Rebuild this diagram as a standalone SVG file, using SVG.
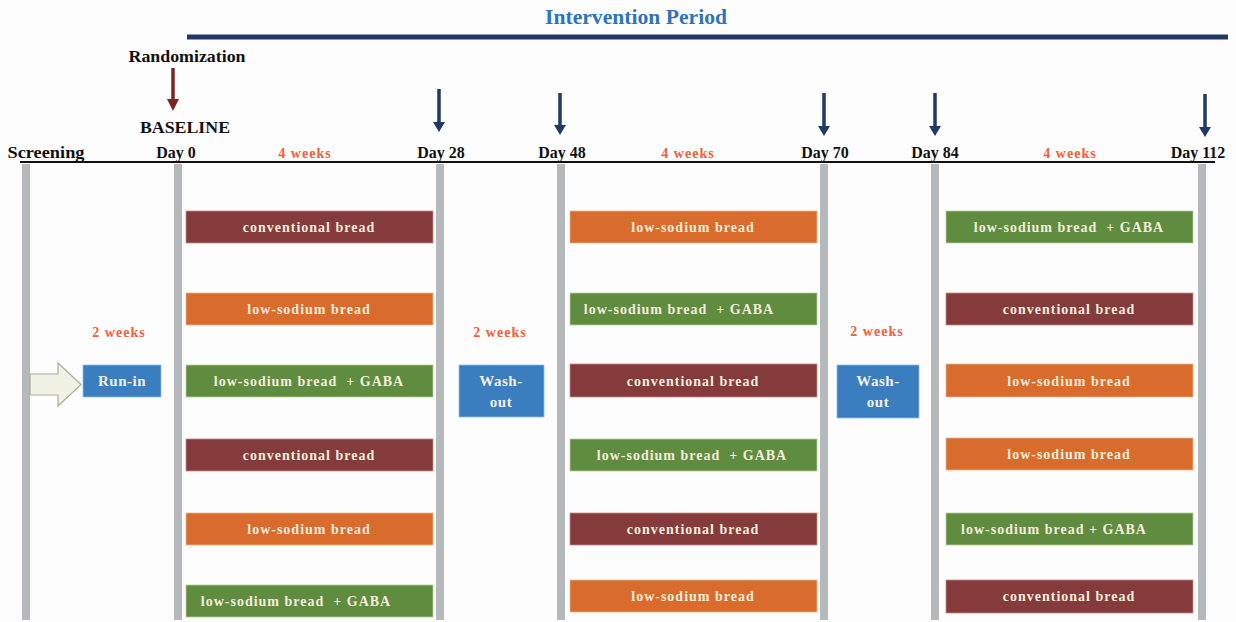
<svg xmlns="http://www.w3.org/2000/svg" width="1236" height="622" viewBox="0 0 1236 622">
<style>
text{font-family:"Liberation Serif","Times New Roman",serif;font-weight:bold;}
.lbl{font-family:"Liberation Serif",serif;font-size:16px;fill:#111;text-anchor:middle;}
.red{font-family:"Liberation Serif",serif;font-size:14px;fill:#f0603c;text-anchor:middle;letter-spacing:1px;}
.bx{font-family:"Liberation Serif",serif;font-size:14px;fill:#f4ecdc;text-anchor:middle;letter-spacing:1px;white-space:pre;}
.wt{font-family:"Liberation Serif",serif;font-size:15px;fill:#f4f0ea;text-anchor:middle;letter-spacing:0.5px;}
.conv{fill:#853a3b;stroke:#c98a86;stroke-width:0.8;}
.low{fill:#d96c2d;stroke:#f0b58c;stroke-width:0.8;}
.gaba{fill:#5f8c3f;stroke:#b6cf9c;stroke-width:0.8;}
.blue{fill:#3a7ebf;stroke:#8fbde6;stroke-width:0.8;}
.bar{fill:#b5b9bc;}
.nav{stroke:#1f3864;stroke-width:3.5;fill:none;}
</style>
<defs>
<marker id="navHead" viewBox="0 0 10 12" refX="0" refY="6" markerWidth="10" markerHeight="12" markerUnits="userSpaceOnUse" orient="auto">
<path d="M0,0 L10,6 L0,12 Z" fill="#1f3864"/>
</marker>
</defs>
<rect width="1236" height="622" fill="#fefdfd"/>

<g id="header">
<text x="636" y="24" style="font-size:20px;fill:#2e75b6;text-anchor:middle" textLength="182" lengthAdjust="spacingAndGlyphs">Intervention Period</text>
<rect x="187" y="34.5" width="1041" height="5" fill="#1f3864"/>
<text x="187" y="62" style="font-size:17px;fill:#111;text-anchor:middle" textLength="117" lengthAdjust="spacingAndGlyphs">Randomization</text>
<line x1="173" y1="68" x2="173" y2="100" stroke="#7b2424" stroke-width="3.5"/>
<path d="M167,99 L179,99 L173,111 Z" fill="#7b2424"/>
<text x="185" y="133" style="font-size:17px;fill:#111;text-anchor:middle" textLength="90" lengthAdjust="spacingAndGlyphs">BASELINE</text>
</g>

<g id="timeline">
<line x1="20" y1="162" x2="1215" y2="162" stroke="#111" stroke-width="2"/>
<text x="46" y="158" class="lbl" textLength="77" lengthAdjust="spacingAndGlyphs">Screening</text>
<text x="176" y="158" class="lbl">Day 0</text>
<text x="305" y="158" class="red">4 weeks</text>
<text x="441" y="158" class="lbl">Day 28</text>
<text x="562" y="158" class="lbl">Day 48</text>
<text x="688" y="158" class="red">4 weeks</text>
<text x="825" y="158" class="lbl">Day 70</text>
<text x="935" y="158" class="lbl">Day 84</text>
<text x="1070" y="158" class="red">4 weeks</text>
<text x="1198" y="158" class="lbl">Day 112</text>
<rect class="bar" x="22" y="164" width="8" height="456"/>
<rect class="bar" x="174" y="164" width="8" height="456"/>
<rect class="bar" x="436" y="164" width="8" height="456"/>
<rect class="bar" x="557" y="164" width="8" height="456"/>
<rect class="bar" x="820" y="164" width="8" height="456"/>
<rect class="bar" x="931" y="164" width="8" height="456"/>
<rect class="bar" x="1198" y="164" width="8" height="456"/>
</g>

<g id="connectors">
<line class="nav" x1="439" y1="89" x2="439" y2="122" marker-end="url(#navHead)"/>
<line class="nav" x1="560" y1="93" x2="560" y2="125" marker-end="url(#navHead)"/>
<line class="nav" x1="824" y1="93" x2="824" y2="126" marker-end="url(#navHead)"/>
<line class="nav" x1="935" y1="93" x2="935" y2="126" marker-end="url(#navHead)"/>
<line class="nav" x1="1205" y1="94" x2="1205" y2="127" marker-end="url(#navHead)"/>
<path d="M30,374 L58,374 L58,363 L81,384.5 L58,406 L58,395 L30,395 Z" fill="#f1f1e6" stroke="#a9b096" stroke-width="1.2"/>
</g>

<g id="runin">
<text x="119" y="337" class="red">2 weeks</text>
<rect class="blue" x="83" y="365" width="78" height="32"/>
<text x="122" y="386" class="wt">Run-in</text>
</g>

<g id="washout1">
<text x="500" y="337" class="red">2 weeks</text>
<rect class="blue" x="459" y="365" width="85" height="52"/>
<text x="501" y="386" class="wt">Wash-</text>
<text x="501" y="407" class="wt">out</text>
</g>

<g id="washout2">
<text x="877" y="336" class="red">2 weeks</text>
<rect class="blue" x="837" y="365" width="82" height="53"/>
<text x="878" y="386" class="wt">Wash-</text>
<text x="878" y="407" class="wt">out</text>
</g>

<g id="period1">
<rect class="conv" x="186" y="211" width="247" height="32"/><text x="309" y="232" class="bx">conventional bread</text>
<rect class="low" x="186" y="293" width="247" height="32"/><text x="309" y="314" class="bx">low-sodium bread</text>
<rect class="gaba" x="186" y="365" width="247" height="32"/><text x="309" y="386" class="bx">low-sodium bread  + GABA</text>
<rect class="conv" x="186" y="439" width="247" height="32"/><text x="309" y="460" class="bx">conventional bread</text>
<rect class="low" x="186" y="513" width="247" height="32"/><text x="309" y="534" class="bx">low-sodium bread</text>
<rect class="gaba" x="186" y="585" width="247" height="32"/><text x="296" y="606" class="bx">low-sodium bread  + GABA</text>
</g>

<g id="period2">
<rect class="low" x="570" y="211" width="247" height="32"/><text x="693" y="232" class="bx">low-sodium bread</text>
<rect class="gaba" x="570" y="293" width="247" height="32"/><text x="679" y="314" class="bx">low-sodium bread  + GABA</text>
<rect class="conv" x="570" y="364" width="247" height="33"/><text x="693" y="386" class="bx">conventional bread</text>
<rect class="gaba" x="570" y="439" width="247" height="32"/><text x="692" y="460" class="bx">low-sodium bread  + GABA</text>
<rect class="conv" x="570" y="513" width="247" height="32"/><text x="693" y="534" class="bx">conventional bread</text>
<rect class="low" x="570" y="580" width="247" height="32"/><text x="693" y="601" class="bx">low-sodium bread</text>
</g>

<g id="period3">
<rect class="gaba" x="946" y="211" width="247" height="32"/><text x="1069" y="232" class="bx">low-sodium bread  + GABA</text>
<rect class="conv" x="946" y="293" width="247" height="32"/><text x="1069" y="314" class="bx">conventional bread</text>
<rect class="low" x="946" y="364" width="247" height="33"/><text x="1069" y="386" class="bx">low-sodium bread</text>
<rect class="low" x="946" y="438" width="247" height="32"/><text x="1069" y="459" class="bx">low-sodium bread</text>
<rect class="gaba" x="946" y="513" width="247" height="32"/><text x="1054" y="534" class="bx">low-sodium bread + GABA</text>
<rect class="conv" x="946" y="580" width="247" height="33"/><text x="1069" y="601" class="bx">conventional bread</text>
</g>
</svg>
